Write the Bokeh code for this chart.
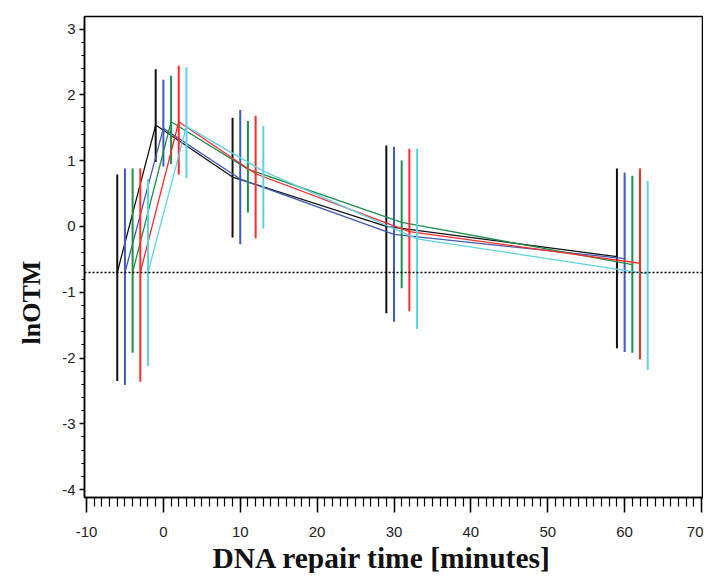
from bokeh.plotting import figure
from bokeh.models import Span, FixedTicker, Range1d, Title, PrintfTickFormatter
from bokeh.embed import file_html
from bokeh.resources import INLINE

# Data
times = [-5, 0, 10, 30, 60]
series_names = ["black", "blue", "green", "red", "cyan"]
offsets = [-1, 0, 1, 2, 3]
colors = ["#111111", "#3f5ab8", "#1f8f4e", "#ff2a2a", "#5fd2e4"]

mean_black = [-0.70, 1.54, 0.75, 0.00, -0.46]
mean_blue = [-0.70, 1.49, 0.72, -0.12, -0.49]
mean_green = [-0.70, 1.59, 0.87, 0.06, -0.58]
mean_red = [-0.70, 1.59, 0.80, -0.08, -0.56]
mean_cyan = [-0.70, 1.52, 0.84, -0.19, -0.72]

upper_black = [0.79, 2.39, 1.65, 1.23, 0.88]
upper_blue = [0.88, 2.23, 1.77, 1.21, 0.82]
upper_green = [0.88, 2.29, 1.60, 1.00, 0.77]
upper_red = [0.88, 2.44, 1.68, 1.18, 0.88]
upper_cyan = [0.72, 2.42, 1.53, 1.18, 0.69]

lower_black = [-2.35, 0.98, -0.17, -1.32, -1.85]
lower_blue = [-2.41, 0.91, -0.27, -1.45, -1.91]
lower_green = [-1.92, 0.95, 0.21, -0.94, -1.92]
lower_red = [-2.36, 0.79, -0.18, -1.29, -2.02]
lower_cyan = [-2.12, 0.73, -0.03, -1.56, -2.18]

reference_level = -0.7

x_ticks = [-10, 0, 10, 20, 30, 40, 50, 60, 70]
y_ticks = [-4, -3, -2, -1, 0, 1, 2, 3]
x_title = "DNA repair time [minutes]"
y_title = "lnOTM"

means = [mean_black, mean_blue, mean_green, mean_red, mean_cyan]
uppers = [upper_black, upper_blue, upper_green, upper_red, upper_cyan]
lowers = [lower_black, lower_blue, lower_green, lower_red, lower_cyan]

W, H = 703, 573
p = figure(width=W, height=H, output_backend="svg", toolbar_location=None,
           x_range=Range1d(-10.26, 70.26), y_range=Range1d(-4.12, 3.19),
           min_border=0, min_border_left=84, min_border_right=0, min_border_top=16,
           min_border_bottom=75)

p.background_fill_color = "white"
p.border_fill_color = "white"
p.outline_line_color = "black"
p.outline_line_width = 1.5
p.grid.visible = False

for name, off, col, m, up, lo in zip(series_names, offsets, colors, means, uppers, lowers):
    xs = [t + off for t in times]
    p.segment(x0=xs, y0=lo, x1=xs, y1=up, line_color=col, line_width=2)
    p.line(xs, m, line_color=col, line_width=1.3)

p.add_layout(Span(location=reference_level, dimension="width", line_color="black",
                  line_dash="2 2", line_width=1.5))

tick_font = "Liberation Sans"
title_font = "Liberation Serif"

xa = p.xaxis[0]
xa.ticker = FixedTicker(ticks=x_ticks, minor_ticks=list(range(-10, 71)))
xa.formatter = PrintfTickFormatter(format="%d")
xa.major_label_text_font = tick_font
xa.major_label_text_font_size = "15px"
xa.major_label_text_color = "#222222"
xa.major_label_standoff = 14
xa.major_tick_out = 15
xa.major_tick_in = 0
xa.minor_tick_out = 9
xa.minor_tick_in = 0
xa.major_tick_line_width = 1.5
xa.minor_tick_line_width = 1.2
xa.axis_line_width = 1.5

ya = p.yaxis[0]
ya.ticker = FixedTicker(ticks=y_ticks,
                        minor_ticks=[round(-4 + 0.2 * i, 2) for i in range(0, 36)])
ya.formatter = PrintfTickFormatter(format="%d")
ya.major_label_text_font = tick_font
ya.major_label_text_font_size = "15px"
ya.major_label_text_color = "#222222"
ya.major_label_standoff = 4
ya.major_tick_out = 5
ya.major_tick_in = 0
ya.minor_tick_out = 3
ya.minor_tick_in = 0
ya.major_tick_line_width = 1.5
ya.minor_tick_line_width = 1.2
ya.axis_line_width = 1.5

p.add_layout(Title(text=y_title, align="left", offset=153, vertical_align="middle",
                   standoff=26, text_font=title_font, text_font_style="bold",
                   text_font_size="26px", text_color="#111111"), "left")
p.add_layout(Title(text=x_title, align="left", offset=128, vertical_align="bottom",
                   standoff=0, text_font=title_font, text_font_style="bold",
                   text_font_size="29.5px", text_color="#111111"), "below")

open("out.html", "w").write(file_html(p, INLINE))
